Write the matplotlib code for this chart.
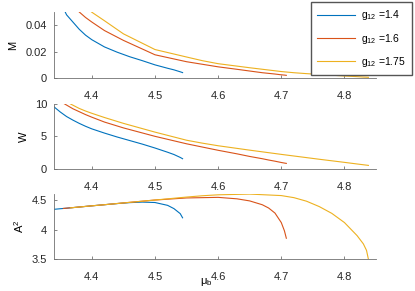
import matplotlib
matplotlib.use("Agg")
import matplotlib.pyplot as plt
from matplotlib.ticker import FuncFormatter

plt.rcParams['font.family'] = ['Liberation Sans', 'DejaVu Sans']
plt.rcParams['mathtext.default'] = 'regular'
plt.rcParams['font.size'] = 8

# g12 = 1.4
mu_a = [4.34, 4.35, 4.36, 4.37, 4.38, 4.39, 4.40, 4.42, 4.44, 4.46, 4.48, 4.50, 4.52, 4.53, 4.54, 4.5437]
M_a = [0.068, 0.058, 0.048, 0.0425, 0.037, 0.0325, 0.029, 0.0235, 0.0195, 0.016, 0.013, 0.0098, 0.0072, 0.006, 0.0045, 0.0039]
W_a = [9.55, 8.75, 8.05, 7.5, 7.0, 6.55, 6.15, 5.5, 4.9, 4.35, 3.8, 3.2, 2.55, 2.2, 1.75, 1.55]
A_a = [4.343, 4.353, 4.362, 4.372, 4.382, 4.392, 4.402, 4.421, 4.440, 4.456, 4.465, 4.458, 4.41, 4.355, 4.27, 4.20]

# g12 = 1.6
mu_b = [4.355, 4.37, 4.38, 4.39, 4.40, 4.42, 4.45, 4.50, 4.55, 4.60, 4.63, 4.65, 4.67, 4.68, 4.69, 4.70, 4.705, 4.708]
M_b = [0.064, 0.055, 0.0502, 0.046, 0.0425, 0.036, 0.0285, 0.0175, 0.0122, 0.0083, 0.0064, 0.0051, 0.0038, 0.0033, 0.0028, 0.0022, 0.002, 0.0018]
W_b = [10.1, 9.25, 8.8, 8.35, 7.95, 7.2, 6.3, 5.0, 3.85, 2.85, 2.3, 1.9, 1.55, 1.35, 1.17, 0.97, 0.88, 0.83]
A_b = [4.358, 4.372, 4.382, 4.392, 4.402, 4.421, 4.451, 4.50, 4.535, 4.545, 4.52, 4.485, 4.42, 4.365, 4.28, 4.12, 3.98, 3.855]

# g12 = 1.75
mu_c = [4.366, 4.38, 4.39, 4.40, 4.42, 4.45, 4.50, 4.55, 4.575, 4.60, 4.65, 4.70, 4.72, 4.74, 4.76, 4.78, 4.80, 4.82, 4.83, 4.835, 4.838]
M_c = [0.066, 0.059, 0.0545, 0.050, 0.0435, 0.0335, 0.0215, 0.0158, 0.013, 0.0107, 0.0076, 0.0047, 0.0038, 0.0031, 0.0025, 0.0019, 0.0013, 0.0008, 0.0005, 0.0004, 0.0003]
W_c = [10.0, 9.3, 8.9, 8.55, 7.9, 7.0, 5.65, 4.4, 3.95, 3.55, 2.87, 2.22, 1.97, 1.72, 1.47, 1.23, 0.99, 0.74, 0.62, 0.56, 0.52]
A_c = [4.368, 4.382, 4.392, 4.402, 4.421, 4.451, 4.50, 4.55, 4.572, 4.588, 4.60, 4.575, 4.54, 4.48, 4.39, 4.275, 4.12, 3.9, 3.76, 3.65, 3.5]

labels = ['g$_{12}$ =1.4', 'g$_{12}$ =1.6', 'g$_{12}$ =1.75']
colors = ['#0072BD', '#D95319', '#EDB120']
xticks = [4.4, 4.5, 4.6, 4.7, 4.8]

fig = plt.figure(figsize=(4.15, 2.91), dpi=100)
ax1 = fig.add_axes([0.130, 0.733, 0.776, 0.225])
ax2 = fig.add_axes([0.130, 0.420, 0.776, 0.223])
ax3 = fig.add_axes([0.130, 0.109, 0.776, 0.224])

series = [(mu_a, M_a, W_a, A_a), (mu_b, M_b, W_b, A_b), (mu_c, M_c, W_c, A_c)]
for (mu, M, W, A), c, lab in zip(series, colors, labels):
    ax1.plot(mu, M, color=c, lw=0.8, label=lab)
    ax2.plot(mu, W, color=c, lw=0.8)
    ax3.plot(mu, A, color=c, lw=0.8)

ax1.set_ylim(0, 0.05)
ax1.set_yticks([0, 0.02, 0.04])
ax2.set_ylim(0, 10)
ax2.set_yticks([0, 5, 10])
ax3.set_ylim(3.5, 4.6)
ax3.set_yticks([3.5, 4, 4.5])

ax1.set_ylabel('M', labelpad=5)
ax2.set_ylabel('W')
ax3.set_ylabel('A$^2$')
ax3.set_xlabel('μ$_b$')
ax3.xaxis.set_label_coords(0.472, -0.25)

for ax in (ax1, ax2, ax3):
    ax.set_xlim(4.34, 4.85)
    ax.set_xticks(xticks)
    ax.yaxis.set_major_formatter(FuncFormatter(lambda v, p: '%g' % v))
    ax.spines['top'].set_visible(False)
    ax.spines['right'].set_visible(False)
    for s in ('left', 'bottom'):
        ax.spines[s].set_color('#707070')
        ax.spines[s].set_linewidth(0.6)
    ax.tick_params(direction='in', length=2.2, width=0.6, color='#707070',
                   labelcolor='#262626', labelsize=8)
    ax.tick_params(axis='x', pad=9.5)
    ax.tick_params(axis='y', pad=5)

fig.legend(loc='upper right', bbox_to_anchor=(0.993, 0.993), frameon=True,
           fancybox=False, edgecolor='#555555', framealpha=1, borderaxespad=0,
           borderpad=0.6, handlelength=3.6, handletextpad=0.6, labelspacing=0.9,
           fontsize=7.5)

fig.savefig('out.png', dpi=100)
